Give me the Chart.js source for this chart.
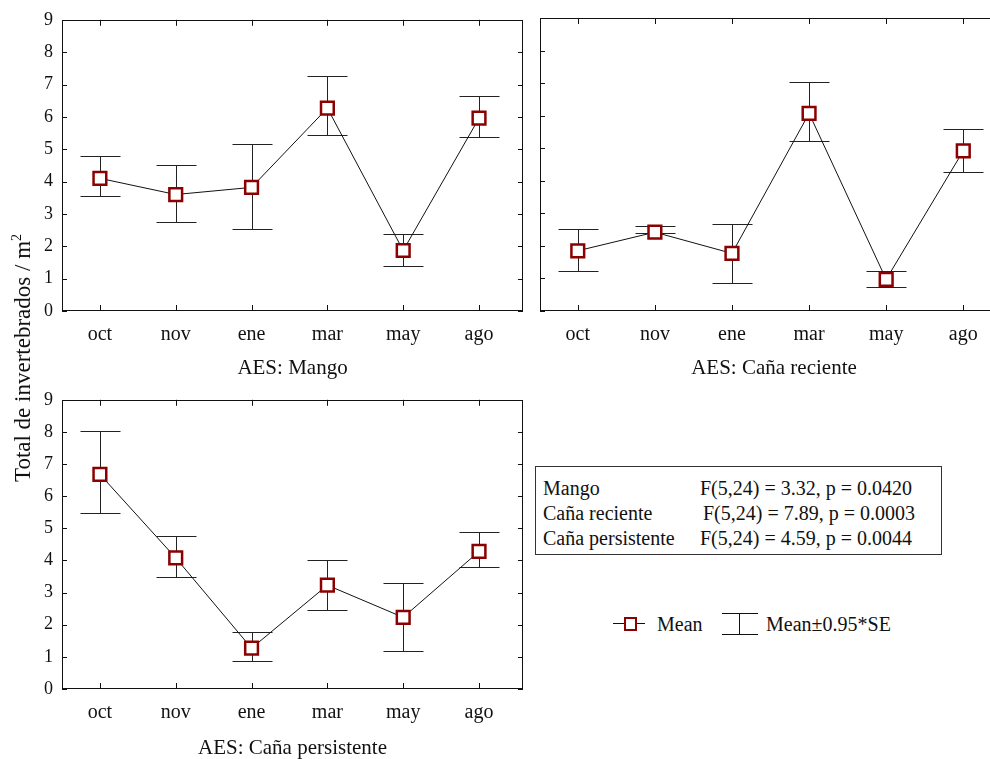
<!DOCTYPE html>
<html>
<head>
<meta charset="utf-8">
<script src="https://cdn.jsdelivr.net/npm/chart.js@4.4.0/dist/chart.umd.min.js"></script>
<style>
  body { margin:0; width:990px; height:759px; overflow:hidden; background:#fff;
         font-family:"Liberation Serif", "Times New Roman", serif; color:#111; position:relative; }
  .panel { position:absolute; }
  #ytitle { position:absolute; left:-127px; top:345px; width:300px; height:26px; line-height:26px;
            font-size:23px; text-align:center; transform:rotate(-90deg); white-space:nowrap; }
  #ytitle sup { font-size:14px; vertical-align:9px; line-height:0; }
  #stats { position:absolute; left:535px; top:466px; width:407px; height:89px; border:1px solid #333;
           font-size:20px; line-height:25px; box-sizing:border-box; padding-top:9px; }
  .row { position:relative; height:25px; }
  .row .n { position:absolute; left:7px; }
  .row .f { position:absolute; left:164px; }
  .leg { position:absolute; font-size:20px; line-height:24px; }
  .sym { position:absolute; }
</style>
</head>
<body>

<div class="panel" style="left:0;top:0"><canvas id="c1" width="530" height="381"></canvas></div>
<div class="panel" style="left:520px;top:0"><canvas id="c2" width="500" height="381"></canvas></div>
<div class="panel" style="left:0;top:380px"><canvas id="c3" width="530" height="381"></canvas></div>

<div id="ytitle">Total de invertebrados / m<sup>2</sup></div>

<div id="stats">
  <div class="row"><span class="n">Mango</span><span class="f">F(5,24) = 3.32, p = 0.0420</span></div>
  <div class="row"><span class="n">Caña reciente</span><span class="f" style="left:167px">F(5,24) = 7.89, p = 0.0003</span></div>
  <div class="row"><span class="n">Caña persistente</span><span class="f">F(5,24) = 4.59, p = 0.0044</span></div>
</div>

<!-- legend -->
<div class="sym" style="left:613px;top:623px;width:32px;height:1px;background:#111"></div>
<div class="sym" style="left:624px;top:617px;width:9px;height:10px;background:#fff;border:2px solid #8b0000"></div>
<div class="leg" style="left:657px;top:612px">Mean</div>
<div class="sym" style="left:722px;top:613px;width:36px;height:1px;background:#111"></div>
<div class="sym" style="left:722px;top:634px;width:36px;height:1px;background:#111"></div>
<div class="sym" style="left:739px;top:613px;width:1px;height:21px;background:#111"></div>
<div class="leg" style="left:766px;top:612px">Mean±0.95*SE</div>

<script>
var months = ['oct', 'nov', 'ene', 'mar', 'may', 'ago'];
var yTicks = [0, 1, 2, 3, 4, 5, 6, 7, 8, 9];

// AES: Mango
var mangoMean = [4.10, 3.60, 3.82, 6.27, 1.87, 5.96];
var mangoHigh = [4.78, 4.50, 5.15, 7.26, 2.39, 6.66];
var mangoLow  = [3.55, 2.76, 2.54, 5.45, 1.38, 5.37];

// AES: Caña reciente
var recMean = [1.85, 2.42, 1.77, 6.07, 0.97, 4.92];
var recHigh = [2.53, 2.62, 2.68, 7.04, 1.23, 5.59];
var recLow  = [1.22, 2.39, 0.87, 5.23, 0.73, 4.28];

// AES: Caña persistente
var perMean = [6.68, 4.08, 1.27, 3.23, 2.23, 4.28];
var perHigh = [8.04, 4.76, 1.76, 4.02, 3.30, 4.90];
var perLow  = [5.48, 3.50, 0.88, 2.47, 1.18, 3.79];

var serif = '"Liberation Serif", "Times New Roman", serif';

// frame, inward ticks and the error bars
var framePlugin = {
  id: 'frame',
  beforeDatasetsDraw: function(chart) {
    var ctx = chart.ctx, a = chart.chartArea;
    var xs = chart.scales.x, ys = chart.scales.y;
    ctx.save();
    ctx.strokeStyle = '#111';
    ctx.lineWidth = 1;
    ctx.strokeRect(Math.round(a.left) + 0.5, Math.round(a.top) + 0.5,
                   Math.round(a.right - a.left) - 1, Math.round(a.bottom - a.top) - 1);
    ctx.beginPath();
    months.forEach(function(m, i) {
      var x = Math.round(xs.getPixelForValue(i)) + 0.5;
      ctx.moveTo(x, a.bottom); ctx.lineTo(x, a.bottom - 6);
      ctx.moveTo(x, a.top); ctx.lineTo(x, a.top + 6);
    });
    yTicks.forEach(function(v) {
      var y = Math.round(ys.getPixelForValue(v)) + 0.5;
      ctx.moveTo(a.left, y); ctx.lineTo(a.left + 5, y);
      ctx.moveTo(a.right, y); ctx.lineTo(a.right - 5, y);
    });
    ctx.stroke();

    var ds = chart.data.datasets[0];
    ctx.strokeStyle = '#222';
    ctx.beginPath();
    ds.data.forEach(function(p, i) {
      var x = Math.round(xs.getPixelForValue(i)) + 0.5;
      var yh = Math.round(ys.getPixelForValue(ds.errHigh[i])) + 0.5;
      var yl = Math.round(ys.getPixelForValue(ds.errLow[i])) + 0.5;
      ctx.moveTo(x, yh); ctx.lineTo(x, yl);
      ctx.moveTo(x - 20, yh); ctx.lineTo(x + 20, yh);
      ctx.moveTo(x - 20, yl); ctx.lineTo(x + 20, yl);
    });
    ctx.stroke();
    ctx.restore();
  }
};

function makePanel(id, title, mean, high, low, opt) {
  var pts = mean.map(function(v, i) { return { x: i, y: v }; });
  return new Chart(document.getElementById(id).getContext('2d'), {
    type: 'line',
    data: {
      datasets: [{
        data: pts,
        errHigh: high,
        errLow: low,
        borderColor: '#111',
        borderWidth: 1,
        pointStyle: 'rect',
        pointRadius: 9,
        pointHoverRadius: 9,
        pointBorderColor: '#8b0000',
        pointBackgroundColor: '#fff',
        pointBorderWidth: 2.5,
        tension: 0
      }]
    },
    options: {
      responsive: false,
      animation: false,
      devicePixelRatio: 1,
      layout: { autoPadding: false, padding: { top: 18, right: opt.right, bottom: 0, left: 0 } },
      plugins: { legend: { display: false }, tooltip: { enabled: false } },
      scales: {
        x: {
          type: 'linear',
          min: opt.xmin,
          max: 5.58,
          afterBuildTicks: function(s) { s.ticks = months.map(function(m, i) { return { value: i }; }); },
          afterFit: function(s) { s.height = opt.xh; },
          grid: { display: false, drawTicks: false },
          border: { display: false },
          ticks: {
            padding: 12, maxRotation: 0, autoSkip: false, color: '#111',
            font: { family: serif, size: 20 },
            callback: function(v) { return months[v]; }
          },
          title: { display: true, text: title, color: '#111', padding: 0,
                   font: { family: serif, size: 21 } }
        },
        y: {
          min: 0,
          max: 9,
          afterBuildTicks: function(s) { s.ticks = yTicks.map(function(v) { return { value: v }; }); },
          afterFit: function(s) { s.width = opt.yw; },
          grid: { display: false, drawTicks: false },
          border: { display: false },
          ticks: { display: opt.ylabels, padding: 9, color: '#111', font: { family: serif, size: 18 } }
        }
      }
    },
    plugins: [framePlugin]
  });
}

makePanel('c1', 'AES: Mango', mangoMean, mangoHigh, mangoLow,
          { right: 7, xmin: -0.5, xh: 70, yw: 62, ylabels: true });
makePanel('c2', 'AES: Caña reciente', recMean, recHigh, recLow,
          { right: 12, xmin: -0.49, xh: 70, yw: 20, ylabels: false });
makePanel('c3', 'AES: Caña persistente', perMean, perHigh, perLow,
          { right: 7, xmin: -0.5, xh: 72, yw: 62, ylabels: true });
</script>
</body>
</html>
